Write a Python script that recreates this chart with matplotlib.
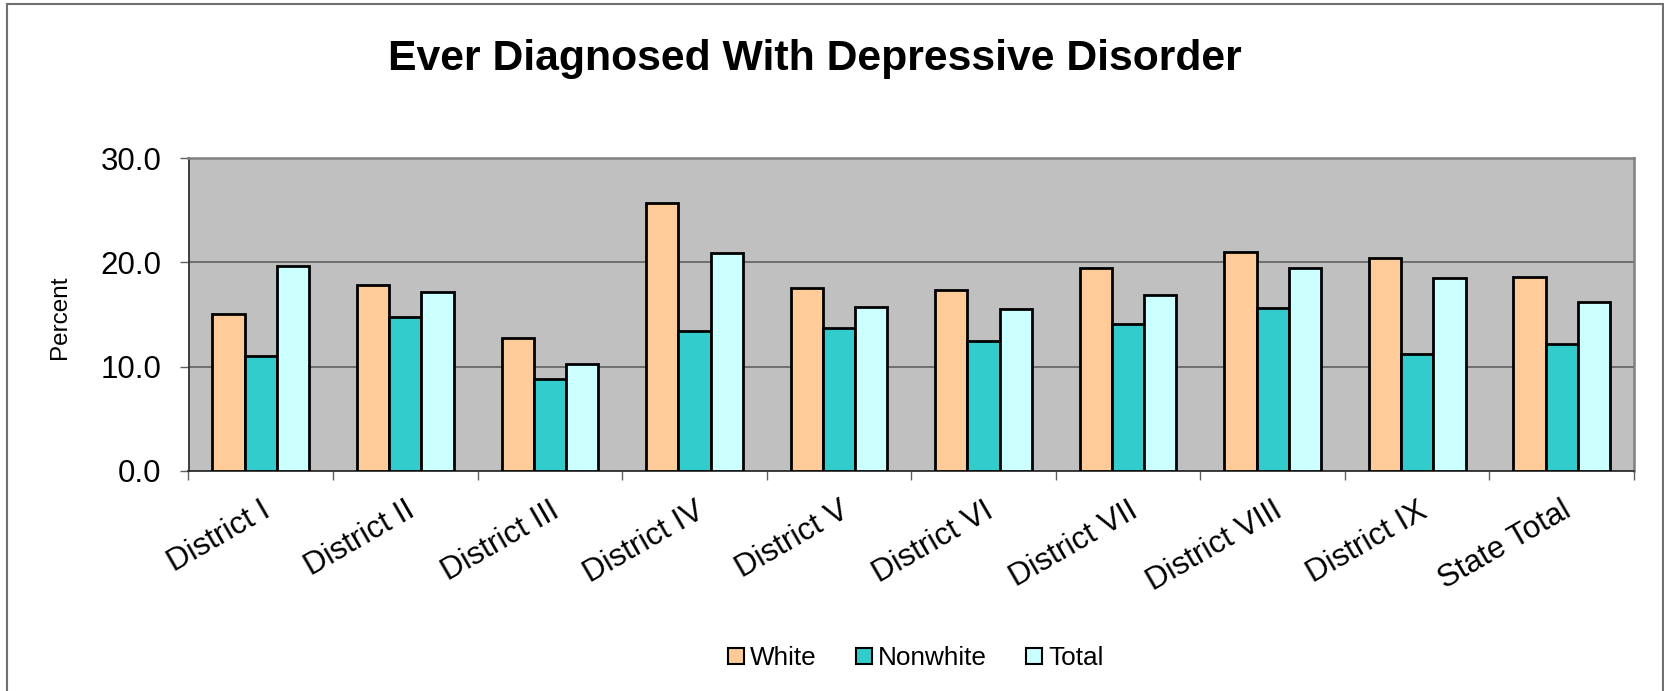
import numpy as np
import matplotlib
matplotlib.use("Agg")
import matplotlib.pyplot as plt
from matplotlib.patches import Rectangle
from matplotlib.ticker import FixedLocator


districts = [
    "District I", "District II", "District III", "District IV", "District V",
    "District VI", "District VII", "District VIII", "District IX", "State Total",
]
white = [15.0, 17.8, 12.7, 25.7, 17.5, 17.4, 19.5, 21.0, 20.4, 18.6]
nonwhite = [11.0, 14.8, 8.8, 13.4, 13.7, 12.5, 14.1, 15.6, 11.2, 12.2]
total = [19.7, 17.2, 10.2, 20.9, 15.7, 15.5, 16.9, 19.5, 18.5, 16.2]

series = [
    ("White", white, "#FFCC99"),
    ("Nonwhite", nonwhite, "#33CCCC"),
    ("Total", total, "#CCFFFF"),
]

plt.rcParams["font.family"] = ["Liberation Sans", "DejaVu Sans"]

W, H = 1664, 691
fig = plt.figure(figsize=(W / 100, H / 100), dpi=100)
fig.patch.set_facecolor("white")

# plot area in pixel terms
left, right, top, bottom = 188.5, 1634, 158.3, 470.7
ax = fig.add_axes([left / W, 1 - bottom / H, (right - left) / W, (bottom - top) / H])
ax.set_facecolor("#C0C0C0")

x = np.arange(len(districts))
bw = 0.223
for i, (name, vals, color) in enumerate(series):
    ax.bar(x + (i - 1) * bw, vals, width=bw, color=color, edgecolor="black",
           linewidth=2.0, label=name, zorder=3)

ax.set_xlim(-0.5, len(districts) - 0.5)
ax.set_ylim(0, 30)
ax.set_yticks([0, 10, 20, 30])
ax.set_yticklabels([f"{v:.1f}" for v in [0, 10, 20, 30]], fontsize=22.5)
ax.yaxis.grid(True, color="#606060", linewidth=1.2, zorder=1)
ax.set_axisbelow(True)

# category labels at centres, tick marks at the boundaries
ax.set_xticks(x)
ax.set_xticklabels(districts, fontsize=22.5, rotation=30, ha="right",
                   va="top", rotation_mode="anchor")
ax.xaxis.set_minor_locator(FixedLocator(np.arange(-0.5, len(districts), 1.0)))
ax.tick_params(axis="x", which="major", length=0, pad=18)
ax.tick_params(axis="x", which="minor", length=6.5, width=1.0, color="#606060")
ax.tick_params(axis="y", length=6.5, width=1.0, color="#606060", pad=13)

for side in ("top", "right"):
    ax.spines[side].set_color("#808080")
    ax.spines[side].set_linewidth(1.8)
for side in ("left", "bottom"):
    ax.spines[side].set_color("#303030")
    ax.spines[side].set_linewidth(1.3)

ax.set_ylabel("Percent", fontsize=17.5, va="center")
ax.yaxis.set_label_coords((60 - left) / (right - left), 0.49)

fig.text(815 / W, 1 - 70 / H, "Ever Diagnosed With Depressive Disorder",
         ha="center", va="baseline", fontsize=30.8, fontweight="bold")

leg = fig.legend(loc="center", bbox_to_anchor=(916 / W, 1 - 658 / H), ncol=3,
                 frameon=False, fontsize=18.8, handlelength=0.6,
                 handleheight=0.6, handletextpad=0.25, columnspacing=1.5)
for h in leg.legend_handles:
    h.set_linewidth(1.5)

# outer chart-area border
fig.patches.append(Rectangle((7 / W, -0.02), (1663 - 7) / W, (H - 4) / H + 0.02,
                             transform=fig.transFigure, fill=False,
                             edgecolor="#707070", linewidth=1.5))

fig.savefig("out.png", dpi=100)
